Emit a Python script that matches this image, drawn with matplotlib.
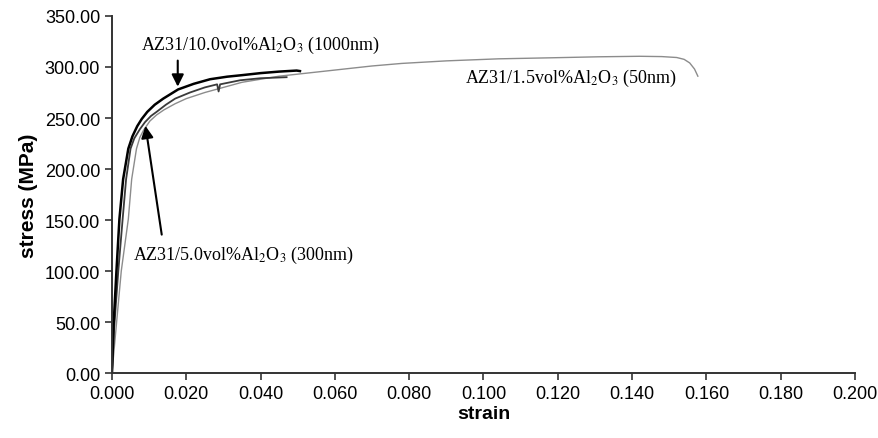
import matplotlib
matplotlib.use("Agg")
import matplotlib.pyplot as plt

# stress-strain curves
strain_1000 = [0, 0.0004, 0.0012, 0.002, 0.003, 0.0044, 0.0055, 0.0068, 0.008,
               0.0095, 0.0115, 0.0138, 0.0178, 0.022, 0.0264, 0.031, 0.035,
               0.040, 0.045, 0.0497, 0.0506]
stress_1000 = [0, 45, 100, 151, 190, 220, 232, 242, 249,
               256, 263, 269, 278, 283.5, 288, 290.5, 292,
               294, 295.5, 296.5, 296]

strain_300 = [0, 0.0006, 0.0017, 0.00287, 0.0038, 0.005, 0.006, 0.0075, 0.0089,
              0.0105, 0.012, 0.0145, 0.017, 0.021, 0.025, 0.0283, 0.0287,
              0.0291, 0.0345, 0.040, 0.047]
stress_300 = [0, 45, 100, 151, 190, 220, 230, 239, 246,
              252, 256, 263, 269, 275, 280, 283, 276,
              283, 287, 289, 290]

strain_50 = [0, 0.001, 0.0025, 0.0044, 0.0053, 0.0066, 0.0075, 0.0085, 0.0102,
             0.012, 0.014, 0.017, 0.020, 0.025, 0.030, 0.035, 0.040, 0.045,
             0.050, 0.060, 0.070, 0.078, 0.090, 0.104, 0.118, 0.131, 0.142,
             0.148, 0.152, 0.154, 0.1555, 0.1568, 0.1577]
stress_50 = [0, 40, 100, 151, 190, 220, 231, 238, 247,
             253, 258, 264, 269, 275, 280, 285, 288, 291,
             293, 297, 301, 303.5, 306, 308, 309, 310, 310.5,
             310.2, 309.3, 307.5, 304, 298, 291]

xticks = [0.0, 0.02, 0.04, 0.06, 0.08, 0.10, 0.12, 0.14, 0.16, 0.18, 0.20]
yticks = [0, 50, 100, 150, 200, 250, 300, 350]

plt.rcParams["font.family"] = ["Liberation Sans", "DejaVu Sans"]
plt.rcParams["mathtext.fontset"] = "stix"

fig = plt.figure(figsize=(8.79, 4.39), dpi=100)
ax = fig.add_axes([0.1274, 0.148, 0.8453, 0.8133])

ax.plot(strain_50, stress_50, color="#8c8c8c", lw=1.0)
ax.plot(strain_300, stress_300, color="#3a3a3a", lw=1.3)
ax.plot(strain_1000, stress_1000, color="black", lw=1.8)

ax.set_xlim(0, 0.2)
ax.set_ylim(0, 350)
ax.set_xticks(xticks)
ax.set_yticks(yticks)
ax.set_xticklabels(["%.3f" % v for v in xticks])
ax.set_yticklabels(["%.2f" % v for v in yticks])
ax.tick_params(direction="out", length=5, width=1.2, labelsize=13, color="#333333")

for s in ["top", "right"]:
    ax.spines[s].set_visible(False)
for s in ["left", "bottom"]:
    ax.spines[s].set_linewidth(1.4)
    ax.spines[s].set_color("#333333")

ax.set_xlabel("strain", fontsize=14, fontweight="bold", labelpad=2)
ax.set_ylabel("stress (MPa)", fontsize=15, fontweight="bold", labelpad=5)

serif = ["Liberation Serif", "DejaVu Serif"]
ax.text(0.040, 322, "AZ31/10.0vol%Al$_2$O$_3$ (1000nm)", family=serif,
        fontsize=13, ha="center", va="center")
ax.text(0.0353, 116, "AZ31/5.0vol%Al$_2$O$_3$ (300nm)", family=serif,
        fontsize=13, ha="center", va="center")
ax.text(0.1235, 290, "AZ31/1.5vol%Al$_2$O$_3$ (50nm)", family=serif,
        fontsize=13, ha="center", va="center")

ax.annotate("", xy=(0.0177, 278), xytext=(0.0177, 309),
            arrowprops=dict(arrowstyle="-|>", color="black", lw=1.5,
                            mutation_scale=18))
ax.annotate("", xy=(0.0089, 245), xytext=(0.0135, 133),
            arrowprops=dict(arrowstyle="-|>", color="black", lw=1.5,
                            mutation_scale=18))

fig.savefig("out.png", dpi=100)
